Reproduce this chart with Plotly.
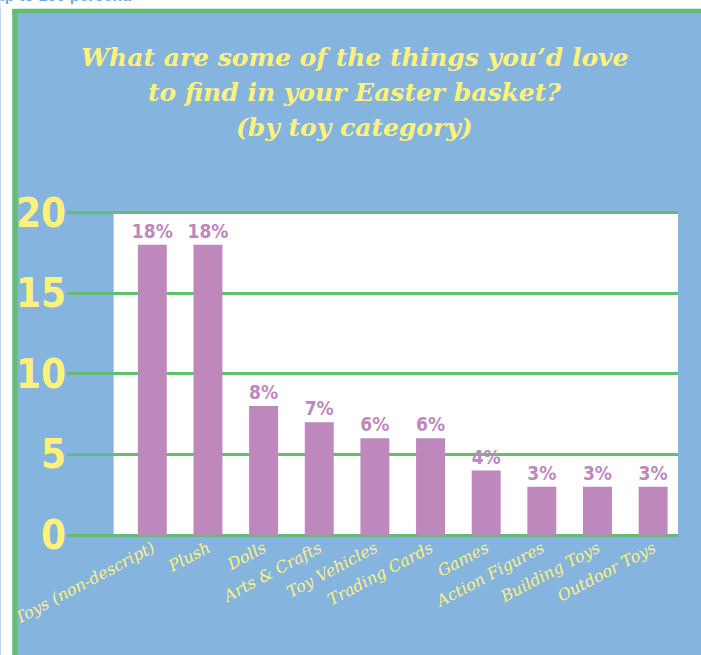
import plotly.graph_objects as go

# data
categories = ["Toys (non-descript)", "Plush", "Dolls", "Arts & Crafts", "Toy Vehicles",
              "Trading Cards", "Games", "Action Figures", "Building Toys", "Outdoor Toys"]
percents = [18, 18, 8, 7, 6, 6, 4, 3, 3, 3]
y_ticks = [0, 5, 10, 15, 20]
title_lines = ["What are some of the things you’d love",
               "to find in your Easter basket?",
               "(by toy category)"]

BLUE = "#85B4DF"
GREEN = "#62BE74"
YELLOW = "#FFF27A"
PURPLE = "#BE88BC"
NARROW = "Liberation Sans Narrow, DejaVu Sans Condensed, Arial Narrow, Liberation Sans, sans-serif"
SCRIPT = "DejaVu Serif, Liberation Serif, serif"

W, H = 701, 655
L, R, T, B = 62, 23, 211, 120
pw, ph = W - L - R, H - T - B


def px_x(p):
    return (p - L) / pw


def px_y(p):
    return (H - B - p) / ph


fig = go.Figure()

fig.add_trace(go.Bar(
    x=categories,
    y=percents,
    marker=dict(color=PURPLE, line=dict(width=0)),
    width=0.52,
    texttemplate="%{y}%",
    textposition="outside",
    constraintext="none",
    textfont=dict(family=NARROW, size=19, color=PURPLE, weight="bold"),
    cliponaxis=False,
    hoverinfo="skip",
))

shapes = [
    # white strips outside the blue panel
    dict(type="rect", xref="paper", yref="paper", x0=px_x(-5), x1=px_x(W + 5),
         y0=px_y(9), y1=px_y(-5), fillcolor="white", line_width=0, layer="below"),
    dict(type="rect", xref="paper", yref="paper", x0=px_x(-5), x1=px_x(7),
         y0=px_y(H + 5), y1=px_y(-5), fillcolor="white", line_width=0, layer="below"),
    # green border
    dict(type="line", xref="paper", yref="paper", x0=px_x(7), x1=px_x(W + 5),
         y0=px_y(11), y1=px_y(11), line=dict(color=GREEN, width=4.5)),
    dict(type="line", xref="paper", yref="paper", x0=px_x(9.5), x1=px_x(9.5),
         y0=px_y(9), y1=px_y(H + 5), line=dict(color=GREEN, width=5)),
    # white plot panel
    dict(type="rect", xref="x", yref="y", x0=-0.695, x1=9.6, y0=0, y1=20,
         fillcolor="white", line_width=0, layer="below"),
]

annotations = [
    dict(text="up to 100 percent.", xref="paper", yref="paper",
         x=px_x(130), y=px_y(6), xanchor="right", yanchor="bottom",
         showarrow=False,
         font=dict(family="Liberation Sans, Arial, sans-serif", size=16,
                   color="#72A8DC", weight="bold")),
]
for i, line in enumerate(title_lines):
    annotations.append(dict(
        text=line, xref="paper", yref="paper",
        x=px_x(352), y=px_y(58 + 35 * i), xanchor="center", yanchor="middle",
        showarrow=False,
        font=dict(family=SCRIPT, size=25, color=YELLOW, style="italic", weight="bold"),
    ))

fig.update_layout(
    width=W,
    height=H,
    margin=dict(l=L, r=R, t=T, b=B, pad=0),
    paper_bgcolor=BLUE,
    plot_bgcolor=BLUE,
    showlegend=False,
    shapes=shapes,
    annotations=annotations,
    xaxis=dict(
        range=[-1.533, 9.447],
        tickangle=-28,
        tickfont=dict(family=SCRIPT, size=16, color=YELLOW, style="italic"),
        showgrid=False,
        zeroline=False,
        showline=False,
        ticks="",
        fixedrange=True,
    ),
    yaxis=dict(
        range=[0, 20.1],
        tickvals=y_ticks,
        tickfont=dict(family=NARROW, size=40, color=YELLOW, weight="bold"),
        showgrid=True,
        gridcolor=GREEN,
        gridwidth=3,
        zeroline=True,
        zerolinecolor=GREEN,
        zerolinewidth=3,
        ticks="",
        ticklabelstandoff=0,
        fixedrange=True,
    ),
)

fig.write_html(
    "out.html",
    config={"displayModeBar": False},
    post_script="document.body.style.margin='0px';"
                "document.body.style.overflow='hidden';"
                "document.documentElement.style.overflow='hidden';",
)
